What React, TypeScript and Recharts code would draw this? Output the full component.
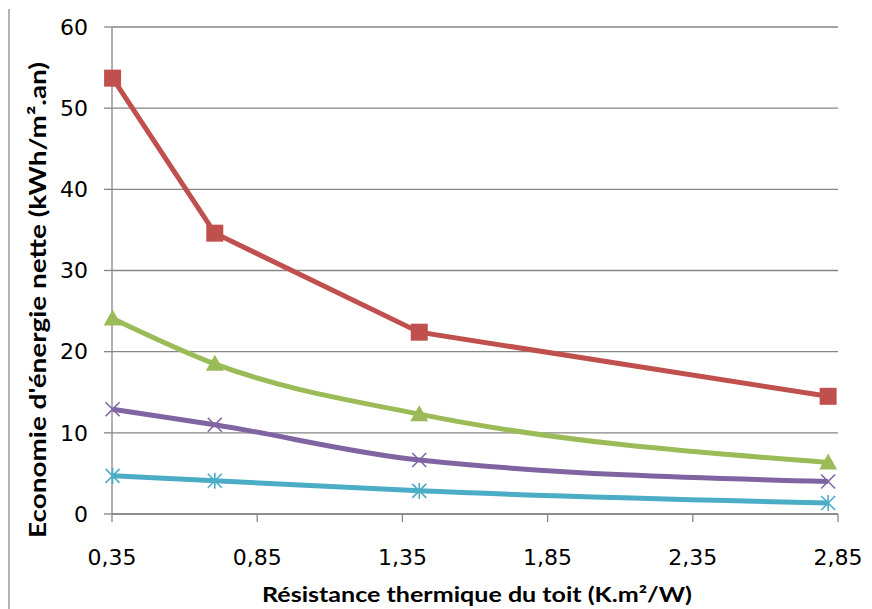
import { CartesianGrid, Line, LineChart, XAxis, YAxis } from "recharts";

// Roof thermal resistance (K.m²/W) vs net energy saving (kWh/m².an)
const resistance = [0.352, 0.704, 1.408, 2.816];
const savingRed = [53.7, 34.6, 22.4, 14.5];
const savingGreen = [24.1, 18.5, 12.3, 6.35];
const savingPurple = [12.9, 11.0, 6.65, 4.0];
const savingCyan = [4.7, 4.1, 2.85, 1.35];

const xTicks = [0.35, 0.85, 1.35, 1.85, 2.35, 2.85];
const yTicks = [0, 10, 20, 30, 40, 50, 60];

const xTitle = "Résistance thermique du toit (K.m²/W)";
const yTitle = "Economie d'énergie nette (kWh/m².an)";

const data = resistance.map((r, i) => ({
  r,
  red: savingRed[i],
  green: savingGreen[i],
  purple: savingPurple[i],
  cyan: savingCyan[i],
}));

const RED = "#C0504D";
const GREEN = "#9BBB59";
const PURPLE = "#8064A2";
const CYAN = "#4BACC6";
const GRID = "#868686";
const TICK_FONT = "'DejaVu Sans', sans-serif";
const TITLE_FONT = "Lato, 'Open Sans', sans-serif";

const fmt = (v: number) => v.toFixed(2).replace(".", ",");

function SquareDot({ cx, cy }: any) {
  return <rect x={cx - 8.5} y={cy - 8.5} width={17} height={17} fill={RED} />;
}

function TriangleDot({ cx, cy }: any) {
  return <polygon points={`${cx},${cy - 9} ${cx + 9},${cy + 7} ${cx - 9},${cy + 7}`} fill={GREEN} />;
}

function CrossDot({ cx, cy }: any) {
  const s = 7;
  return (
    <g stroke={PURPLE} strokeWidth={1.6}>
      <line x1={cx - s} y1={cy - s} x2={cx + s} y2={cy + s} />
      <line x1={cx - s} y1={cy + s} x2={cx + s} y2={cy - s} />
    </g>
  );
}

function StarDot({ cx, cy }: any) {
  const s = 7;
  return (
    <g stroke={CYAN} strokeWidth={1.6}>
      <line x1={cx - s} y1={cy - s} x2={cx + s} y2={cy + s} />
      <line x1={cx - s} y1={cy + s} x2={cx + s} y2={cy - s} />
      <line x1={cx} y1={cy - s - 1} x2={cx} y2={cy + s + 1} />
    </g>
  );
}

const XTitle = () => (
  <text x={477} y={602} textAnchor="middle" fontFamily={TITLE_FONT} fontWeight={700} fontSize={20}
    textLength={430} lengthAdjust="spacingAndGlyphs" fill="#000">
    {xTitle}
  </text>
);

const YTitle = () => (
  <text transform="translate(46,300) rotate(-90)" x={0} y={0} textAnchor="middle" fontFamily={TITLE_FONT}
    fontWeight={700} fontSize={23} textLength={476} lengthAdjust="spacingAndGlyphs" fill="#000">
    {yTitle}
  </text>
);

export default function App() {
  return (
    <div style={{ position: "relative", width: 872, height: 609, background: "#fff" }}>
      <style>{"body{margin:0}"}</style>
      <div style={{ position: "absolute", left: 8, top: 9, width: 2, height: 600, background: "#b3b3b3" }} />
      <LineChart width={872} height={609} data={data} margin={{ top: 27, right: 34, bottom: 0, left: 0 }}>
        <CartesianGrid vertical={false} stroke={GRID} strokeWidth={1.3} />
        <XAxis
          dataKey="r"
          type="number"
          domain={[0.35, 2.85]}
          ticks={xTicks}
          tickFormatter={fmt}
          height={95}
          stroke={GRID}
          strokeWidth={1.3}
          tickSize={8}
          tickMargin={27}
          tick={{ fill: "#000", fontSize: 22, fontFamily: TICK_FONT }}
          label={() => <XTitle />}
        />
        <YAxis
          type="number"
          domain={[0, 60]}
          ticks={yTicks}
          width={112}
          stroke={GRID}
          strokeWidth={1.3}
          tickSize={8}
          tickMargin={16}
          tick={{ fill: "#000", fontSize: 22, fontFamily: TICK_FONT }}
          label={() => <YTitle />}
        />
        <Line dataKey="cyan" type="monotone" stroke={CYAN} strokeWidth={5} isAnimationActive={false}
          dot={(p: any) => <StarDot key={`c-${p.index}`} {...p} />} />
        <Line dataKey="purple" type="monotone" stroke={PURPLE} strokeWidth={5} isAnimationActive={false}
          dot={(p: any) => <CrossDot key={`p-${p.index}`} {...p} />} />
        <Line dataKey="green" type="monotone" stroke={GREEN} strokeWidth={5} isAnimationActive={false}
          dot={(p: any) => <TriangleDot key={`g-${p.index}`} {...p} />} />
        <Line dataKey="red" type="linear" stroke={RED} strokeWidth={5} isAnimationActive={false}
          dot={(p: any) => <SquareDot key={`r-${p.index}`} {...p} />} />
      </LineChart>
    </div>
  );
}
